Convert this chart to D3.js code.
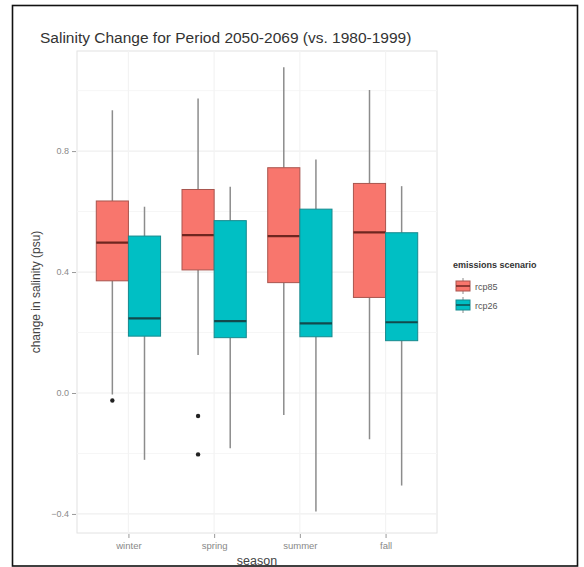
<!DOCTYPE html>
<html>
<head>
<meta charset="utf-8">
<script src="https://cdn.jsdelivr.net/npm/d3@7"></script>
<style>
body { margin: 0; background: #fff; }
svg { display: block; }
text { font-family: "Liberation Sans", Arial, sans-serif; }
</style>
</head>
<body>
<svg id="chart" width="584" height="567"></svg>
<script>
// ---- data ----
const seasons = ["winter", "spring", "summer", "fall"];
const scenarios = ["rcp85", "rcp26"];
const scenarioColors = ["#F8766D", "#00BFC4"];
// [whiskerLow, q1, median, q3, whiskerHigh] per season, per scenario
const rcp85Stats = [
  [-0.005, 0.371, 0.497, 0.635, 0.935],
  [0.126, 0.407, 0.522, 0.673, 0.974],
  [-0.073, 0.365, 0.519, 0.745, 1.077],
  [-0.153, 0.316, 0.531, 0.693, 1.002]
];
const rcp26Stats = [
  [-0.221, 0.188, 0.247, 0.519, 0.616],
  [-0.183, 0.183, 0.238, 0.570, 0.682],
  [-0.392, 0.186, 0.230, 0.608, 0.772],
  [-0.306, 0.173, 0.234, 0.530, 0.684]
];
const rcp85Outliers = [[-0.025], [-0.076, -0.203], [], []];
const rcp26Outliers = [[], [], [], []];
const yTicks = [-0.4, 0.0, 0.4, 0.8];
const yMinorTicks = [-0.2, 0.2, 0.6, 1.0];
const titleText = "Salinity Change for Period 2050-2069 (vs. 1980-1999)";
const xLabel = "season";
const yLabel = "change in salinity (psu)";
const legendTitle = "emissions scenario";

const svg = d3.select("#chart");

// outer frame
svg.append("rect").attr("x", 12.5).attr("y", 5.5).attr("width", 565).attr("height", 560.5)
  .attr("fill", "#fff").attr("stroke", "#111").attr("stroke-width", 1.6);

const panel = { left: 77, right: 437, top: 51, bottom: 533 };

const x = d3.scaleLinear().domain([0.4, 4.6]).range([panel.left, panel.right]);
const y = d3.scaleLinear().domain([-0.463, 1.131]).range([panel.bottom, panel.top]);

// panel background and grid
const g = svg.append("g");
g.append("rect").attr("x", panel.left).attr("y", panel.top)
  .attr("width", panel.right - panel.left).attr("height", panel.bottom - panel.top)
  .attr("fill", "#fff").attr("stroke", "#e2e2e2").attr("stroke-width", 1);

g.selectAll(".minor").data(yMinorTicks).enter().append("line")
  .attr("x1", panel.left).attr("x2", panel.right)
  .attr("y1", d => y(d)).attr("y2", d => y(d))
  .attr("stroke", "#f6f6f6").attr("stroke-width", 1);
g.selectAll(".major").data(yTicks).enter().append("line")
  .attr("x1", panel.left).attr("x2", panel.right)
  .attr("y1", d => y(d)).attr("y2", d => y(d))
  .attr("stroke", "#efefef").attr("stroke-width", 1.2);
g.selectAll(".vmajor").data(seasons).enter().append("line")
  .attr("x1", (d, i) => x(i + 1)).attr("x2", (d, i) => x(i + 1))
  .attr("y1", panel.top).attr("y2", panel.bottom)
  .attr("stroke", "#f3f3f3").attr("stroke-width", 1.2);

// axes
const yAxis = d3.axisLeft(y).tickValues(yTicks).tickFormat(d3.format(".1f")).tickSize(4).tickPadding(3);
const ya = svg.append("g").attr("transform", `translate(${panel.left - 1},0)`).call(yAxis);
ya.select(".domain").remove();
ya.selectAll("line").attr("stroke", "#999");
ya.selectAll("text").attr("fill", "#8a8a8a").style("font-size", "9px");

const xAxis = d3.axisBottom(x).tickValues([1, 2, 3, 4]).tickFormat((d) => seasons[d - 1]).tickSize(4).tickPadding(4);
const xa = svg.append("g").attr("transform", `translate(0,${panel.bottom + 1})`).call(xAxis);
xa.select(".domain").remove();
xa.selectAll("line").attr("stroke", "#999");
xa.selectAll("text").attr("fill", "#888").style("font-size", "9.5px");

// boxes
const boxW = 0.375;
const offsets = [-0.1875, 0.1875];
const statsBy = [rcp85Stats, rcp26Stats];
const outBy = [rcp85Outliers, rcp26Outliers];
const strokeCols = ["#a9554e", "#178a8e"];
const medianCols = ["#6e2620", "#124a4c"];

scenarios.forEach((sc, si) => {
  const gg = svg.append("g");
  seasons.forEach((s, i) => {
    const st = statsBy[si][i];
    const cx = x(i + 1 + offsets[si]);
    const x0 = x(i + 1 + offsets[si] - boxW / 2);
    const x1 = x(i + 1 + offsets[si] + boxW / 2);
    // whiskers
    gg.append("line").attr("x1", cx).attr("x2", cx).attr("y1", y(st[3])).attr("y2", y(st[4]))
      .attr("stroke", "#8c8c8c").attr("stroke-width", 1.5);
    gg.append("line").attr("x1", cx).attr("x2", cx).attr("y1", y(st[1])).attr("y2", y(st[0]))
      .attr("stroke", "#8c8c8c").attr("stroke-width", 1.5);
    // box
    gg.append("rect").attr("x", x0).attr("y", y(st[3]))
      .attr("width", x1 - x0).attr("height", y(st[1]) - y(st[3]))
      .attr("fill", scenarioColors[si]).attr("stroke", strokeCols[si]).attr("stroke-width", 1);
    // median
    gg.append("line").attr("x1", x0).attr("x2", x1).attr("y1", y(st[2])).attr("y2", y(st[2]))
      .attr("stroke", medianCols[si]).attr("stroke-width", 2.2);
    // outliers
    outBy[si][i].forEach(v => {
      gg.append("circle").attr("cx", cx).attr("cy", y(v)).attr("r", 2.2).attr("fill", "#222");
    });
  });
});

// title
svg.append("text").attr("x", 40).attr("y", 43).text(titleText)
  .attr("fill", "#333").style("font-size", "15.5px");

// axis titles
svg.append("text").attr("x", (panel.left + panel.right) / 2).attr("y", 565)
  .attr("text-anchor", "middle").text(xLabel).attr("fill", "#444").style("font-size", "12.5px");
svg.append("text").attr("transform", `translate(40,${(panel.top + panel.bottom) / 2}) rotate(-90)`)
  .attr("text-anchor", "middle").text(yLabel).attr("fill", "#444").style("font-size", "12px");

// legend
const lg = svg.append("g").attr("transform", "translate(453,0)");
lg.append("text").attr("x", 0).attr("y", 268).text(legendTitle)
  .attr("fill", "#333").style("font-size", "9px").style("font-weight", "bold");
scenarios.forEach((sc, si) => {
  const ky = 278 + si * 19;
  lg.append("line").attr("x1", 10).attr("x2", 10).attr("y1", ky).attr("y2", ky + 16)
    .attr("stroke", "#8c8c8c").attr("stroke-width", 1);
  lg.append("rect").attr("x", 3).attr("y", ky + 3).attr("width", 14).attr("height", 10)
    .attr("fill", scenarioColors[si]).attr("stroke", strokeCols[si]).attr("stroke-width", 1);
  lg.append("line").attr("x1", 3).attr("x2", 17).attr("y1", ky + 8).attr("y2", ky + 8)
    .attr("stroke", medianCols[si]).attr("stroke-width", 1.5);
  lg.append("text").attr("x", 22).attr("y", ky + 11.5).text(sc)
    .attr("fill", "#555").style("font-size", "9px");
});
</script>
</body>
</html>
